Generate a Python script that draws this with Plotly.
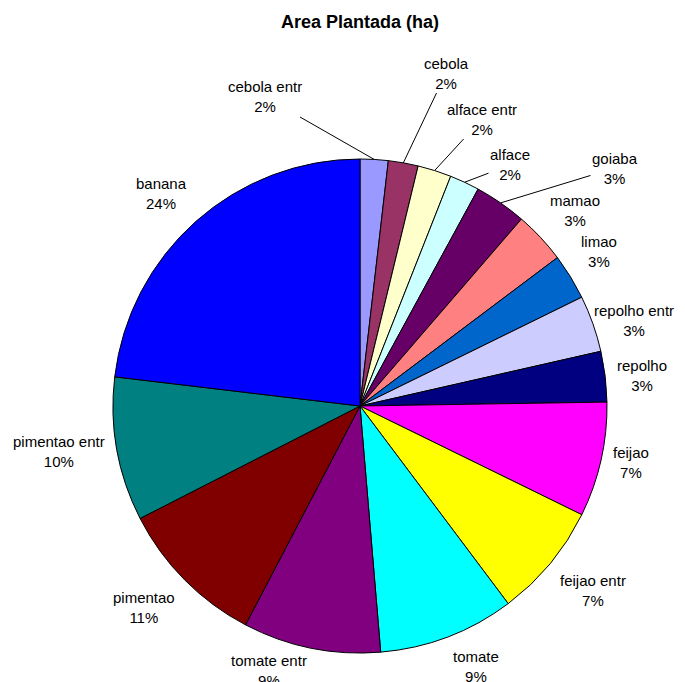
import math
import plotly.graph_objects as go

# culturas, em ordem horaria a partir do topo
culturas = ['cebola entr', 'cebola', 'alface entr', 'alface', 'goiaba', 'mamao',
            'limao', 'repolho entr', 'repolho', 'feijao', 'feijao entr', 'tomate',
            'tomate entr', 'pimentao', 'pimentao entr', 'banana']
area_ha = [1.83, 1.95, 2.2, 1.95, 3.4, 3.4,
           3.0, 3.7, 3.3, 7.5, 7.5, 8.9,
           9.0, 9.8, 9.4, 23.1]
# percentuais como aparecem nos rotulos do grafico original
percentuais = ['2%', '2%', '2%', '2%', '3%', '3%',
               '3%', '3%', '3%', '7%', '7%', '9%',
               '9%', '11%', '10%', '24%']
cores = ['#9999FF', '#993366', '#FFFFCC', '#CCFFFF', '#660066', '#FF8080',
         '#0066CC', '#CCCCFF', '#000080', '#FF00FF', '#FFFF00', '#00FFFF',
         '#800080', '#800000', '#008080', '#0000FF']

W, H = 685, 682
OFF = 8                            # margem padrao do <body> na pagina
CX, CY, R = 360, 406, 247          # centro / raio da pizza na tela (px)
GAP = 10                           # distancia do rotulo ate a borda
FONT = 'Liberation Sans, Arial'
LIM_DIR = 675                      # limite direito para os rotulos
LIM_INF = 650                      # topo maximo dos rotulos de baixo

# rotulos com linha de chamada (fatias pequenas do topo): posicao do texto na tela
chamadas = {0: (265, 97), 1: (446, 73), 2: (482, 119), 3: (510, 165), 4: (615, 168)}


def paper(x, y):
    return (x - OFF) / W, 1 - (y - OFF) / H


def main():
    total = sum(area_ha)
    x0, y0 = paper(CX - R, CY - R)
    x1, y1 = paper(CX + R, CY + R)
    domain = dict(x=[x0, x1], y=[y1, y0])

    fig = go.Figure()
    fig.add_trace(go.Pie(labels=culturas, values=area_ha,
                         sort=False, direction='clockwise', rotation=0,
                         marker=dict(colors=cores, line=dict(color='black', width=1)),
                         textinfo='none', showlegend=False,
                         hoverinfo='label+value', domain=domain))

    acum = 0
    for i, v in enumerate(area_ha):
        meio = 2 * math.pi * (acum + v / 2) / total
        acum += v
        s, c = math.sin(meio), math.cos(meio)
        tx, ty = CX + R * s, CY - R * c
        texto = f'{culturas[i]}<br>{percentuais[i]}'
        fonte = dict(family=FONT, size=15, color='black')
        if i in chamadas:
            lx, ly = chamadas[i]
            px, py = paper(tx, ty)
            fig.add_annotation(x=px, y=py, xref='paper', yref='paper',
                               ax=lx - tx, ay=ly - ty, axref='pixel', ayref='pixel',
                               text=texto, showarrow=True, arrowhead=0, arrowwidth=1,
                               arrowcolor='black', standoff=0, align='center', font=fonte)
            continue
        lx, ly = tx + GAP * s, ty - GAP * c
        xa = 'left' if s > 0.1 else ('right' if s < -0.1 else 'center')
        ya = 'bottom' if c > 0.5 else ('top' if c < -0.5 else 'middle')
        if xa == 'left':
            lx = min(lx, LIM_DIR - 6.9 * len(culturas[i]))
        if ya == 'top':
            ly = min(ly, LIM_INF)
        px, py = paper(lx, ly)
        fig.add_annotation(x=px, y=py, xref='paper', yref='paper',
                           xanchor=xa, yanchor=ya, text=texto, showarrow=False,
                           align='center', font=fonte)

    fig.update_layout(width=W, height=H,
                      margin=dict(l=0, r=0, t=0, b=0),
                      paper_bgcolor='white',
                      title=dict(text='<b>Area Plantada (ha)</b>', x=(360 - OFF) / W, xanchor='center',
                                 y=paper(0, 22)[1], yanchor='middle',
                                 font=dict(family=FONT, size=18, color='black')))
    fig.write_html('out.html')


if __name__ == "__main__":
    main()
